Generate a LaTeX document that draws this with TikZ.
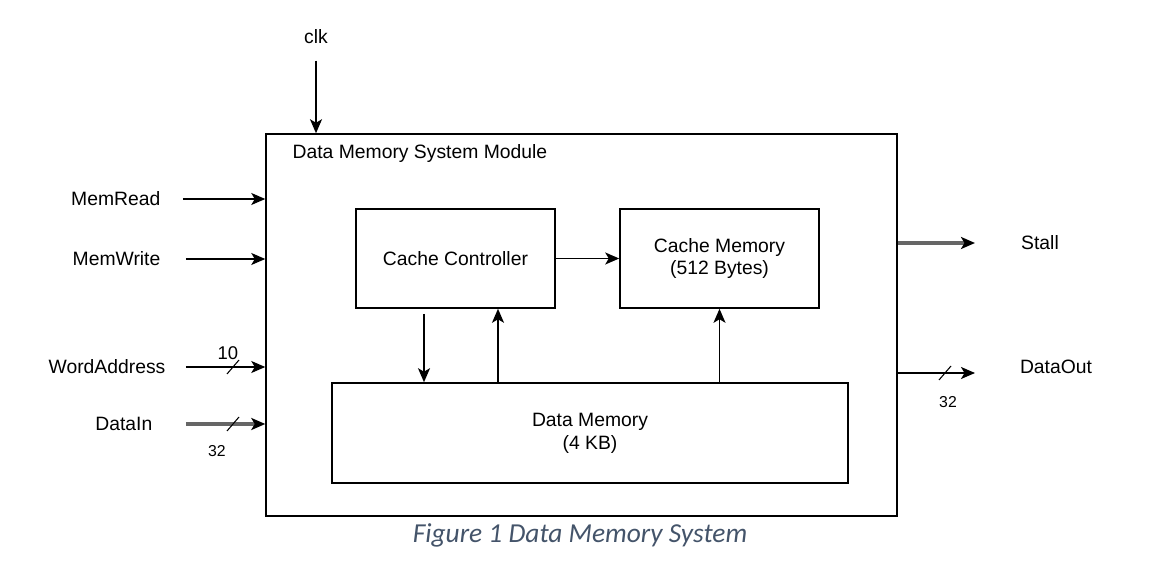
\documentclass[tikz,border=0pt]{standalone}
\usepackage{fontspec}
\setmainfont{Liberation Sans}
\newfontfamily\captionfont{Carlito}
\usetikzlibrary{arrows.meta,positioning}
\definecolor{captionblue}{HTML}{44546A}

\begin{document}
\begin{tikzpicture}[x=0.02cm,y=-0.02cm,>={Stealth[length=2.8mm,width=2.4mm,inset=0.7mm,color=black]},
    line width=0.9pt,font=\fontsize{11}{13}\selectfont,
    block/.style={draw,align=center,inner sep=0pt},
    sig/.style={->},
    bus/.style={->,draw=black!60,line width=1.8pt},
    buswidth/.style={font=\fontsize{9}{10}\selectfont}]
  \useasboundingbox (0,0) rectangle (1150,567);
  % module frame and blocks
  \node[block,minimum width=12.62cm,minimum height=7.64cm] (sys) at (581.5,325) {};
  \node[anchor=west] (title) at (286,154) {Data Memory System Module};
  \node[block,minimum width=3.98cm,minimum height=1.98cm] (ctrl) at (455.5,258.5) {Cache Controller};
  \node[block,minimum width=3.98cm,minimum height=1.98cm] (cache) at (719.5,258.5) {Cache Memory\\(512 Bytes)};
  \node[block,minimum width=10.32cm,minimum height=2cm] (dmem) at (590,433) {Data Memory\\(4 KB)};
  % inputs
  \node (clk) at (316,37) {clk};
  \node[anchor=east] (rd) at (167,199) {MemRead};
  \node[anchor=east] (wr) at (167,259) {MemWrite};
  \node[anchor=east] (addr) at (172,367) {WordAddress};
  \node[anchor=east] (din) at (159,424) {DataIn};
  \draw[sig] ([yshift=-0.2cm]clk.south) -- (clk |- sys.north);
  \draw[sig] ([xshift=0.32cm]rd.east) -- (rd -| sys.west);
  \draw[sig] ([xshift=0.38cm]wr.east) -- (wr -| sys.west);
  \draw[sig] ([xshift=0.28cm]addr.east) -- (addr -| sys.west);
  \draw[bus] ([xshift=0.54cm]din.east) -- (din -| sys.west);
  \draw[line width=0.6pt] (227,374) -- (239,360);
  \draw[line width=0.6pt] (227,431) -- (239,417);
  \node[buswidth,font=\fontsize{10.5}{12}\selectfont] at (228,353) {10};
  \node[buswidth] at (217,451) {32};
  % outputs
  \node (stall) at (1040,243) {Stall};
  \node (dout) at (1056,367) {DataOut};
  \coordinate (stallend) at (975,243);
  \coordinate (doutend) at (975,373);
  \draw[bus] (stallend -| sys.east) -- (stallend);
  \draw[sig] (doutend -| sys.east) -- (doutend);
  \draw[line width=0.6pt] (939,380) -- (951,366);
  \node[buswidth] at (948,402) {32};
  % internal paths
  \coordinate (req) at (424,314);
  \coordinate (ret) at (498,308);
  \draw[sig] (ctrl.east) -- (cache.west);
  \draw[sig] (req) -- (req |- dmem.north);
  \draw[sig] (ret |- dmem.north) -- (ret |- ctrl.south);
  \draw[sig] (cache.south |- dmem.north) -- (cache.south);
  % caption
  \node[font=\captionfont\itshape\fontsize{15.6}{17}\selectfont,text=captionblue] (cap) at (580,535) {Figure 1 Data Memory System};
\end{tikzpicture}
\end{document}
